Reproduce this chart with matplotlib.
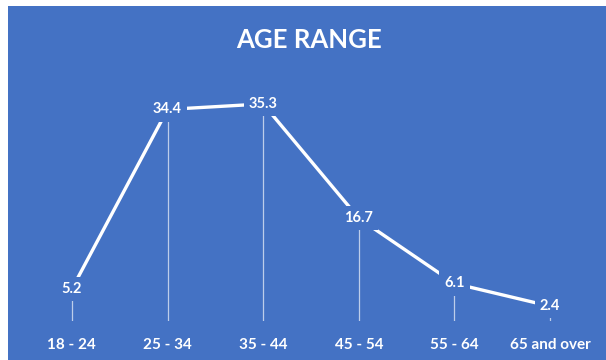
import matplotlib.pyplot as plt

categories = ['18 - 24', '25 - 34', '35 - 44', '45 - 54', '55 - 64', '65 and over']
values = [5.2, 34.4, 35.3, 16.7, 6.1, 2.4]

BLUE = '#4472C4'
W, H = 606, 360

plt.rcParams['font.family'] = ['Lato', 'DejaVu Sans']

fig = plt.figure(figsize=(W / 100, H / 100), dpi=100)
fig.patch.set_facecolor('white')

# blue chart area (small white strip on top and left)
bg = fig.add_axes([8 / W, 0, 1 - 8 / W, (H - 6) / H])
bg.set_facecolor(BLUE)
bg.set_xticks([])
bg.set_yticks([])
for s in bg.spines.values():
    s.set_visible(False)

fig.text(309 / W, 1 - 40 / H, 'AGE RANGE', color='white', fontsize=18.5,
         fontweight='bold', ha='center', va='center')

ax = fig.add_axes([24 / W, 39 / H, 574 / W, 246 / H])
ax.set_facecolor('none')
x = list(range(len(categories)))

ax.vlines(x, 0, values, colors='white', linewidth=0.9, alpha=0.65, zorder=1)
ax.plot(x, values, color='white', linewidth=2.4, solid_capstyle='butt', zorder=2)

for xi, v in zip(x, values):
    ax.text(xi, v, f'{v}', color='white', fontsize=10.5, fontweight='bold',
            ha='center', va='center', zorder=3,
            bbox=dict(boxstyle='square,pad=0.35', facecolor=BLUE, edgecolor='none'))

ax.set_xlim(-0.5, len(categories) - 0.5)
ax.set_ylim(0, 40)
ax.set_xticks(x)
ax.set_xticklabels(categories, color='white', fontsize=11, fontweight='bold')
ax.tick_params(axis='x', length=0, pad=12)
ax.set_yticks([])
for s in ax.spines.values():
    s.set_visible(False)

fig.savefig('out.png', dpi=100, facecolor='white')
